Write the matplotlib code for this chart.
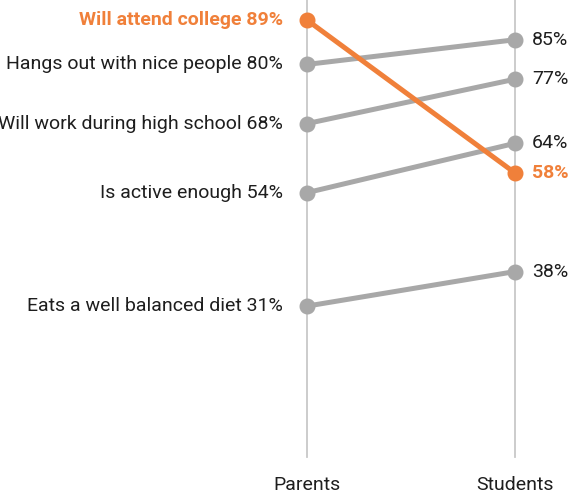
import matplotlib.pyplot as plt

# survey responses: share answering "yes", parents vs students
labels = ["Will attend college", "Hangs out with nice people",
          "Will work during high school", "Is active enough",
          "Eats a well balanced diet"]
parents = [89, 80, 68, 54, 31]
students = [58, 85, 77, 64, 38]
groups = ["Parents", "Students"]
highlight = "Will attend college"

ORANGE = "#f0803a"
GREY = "#a8a8a8"
TEXT = "#1e1e1e"

plt.rcParams["font.family"] = ["Roboto", "DejaVu Sans"]

fig = plt.figure(figsize=(5.74, 4.96), dpi=100)
ax = fig.add_axes([0, 0, 1, 1])
ax.set_xlim(-1.476, 1.284)
ax.set_ylim(-7.5, 93.06)
ax.axis("off")

# vertical guides for each group
for i in range(len(groups)):
    ax.plot([i, i], [0.5, 100], color="#c8c8c8", lw=1.3, zorder=1)
    ax.text(i, -5.3, groups[i], ha="center", va="center", fontsize=14,
            color=TEXT)

for lab, p, s in zip(labels, parents, students):
    hot = lab == highlight
    c = ORANGE if hot else GREY
    ax.plot([0, 1], [p, s], color=c, lw=3.6, marker="o", ms=10.5,
            solid_capstyle="round", zorder=3 if hot else 2)
    tc = ORANGE if hot else TEXT
    fw = "bold" if hot else "normal"
    ax.annotate(f"{lab} {p}%", (0, p), xytext=(-24, 0),
                textcoords="offset pixels", ha="right", va="center",
                fontsize=14, color=tc, fontweight=fw)
    ax.annotate(f"{s}%", (1, s), xytext=(17, 0),
                textcoords="offset pixels", ha="left", va="center",
                fontsize=14, color=tc, fontweight=fw)

fig.savefig("out.png", dpi=100)
